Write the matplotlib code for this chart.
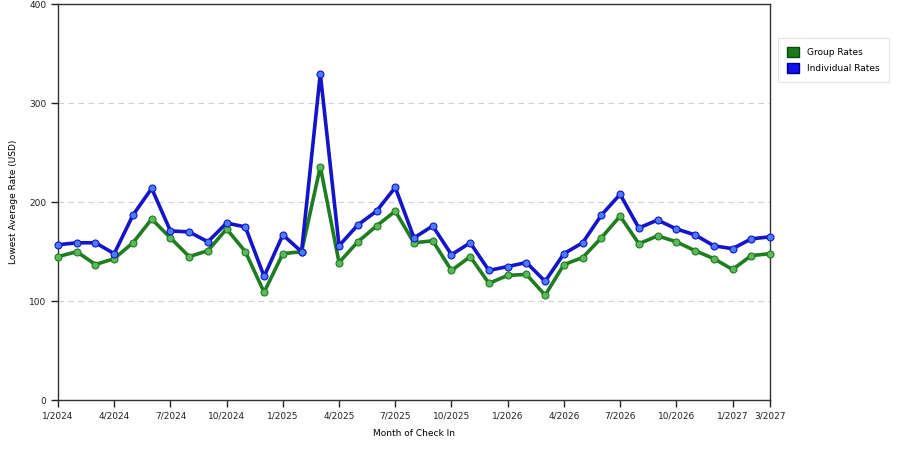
import numpy as np
import matplotlib
matplotlib.use("Agg")
import matplotlib.pyplot as plt
from matplotlib.patches import Patch

months = [f"{m}/{y}" for y in range(2024, 2028) for m in range(1, 13)][:39]

group_rates = [145, 150, 137, 143, 159, 183, 164, 145, 151, 173, 150, 109,
               148, 150, 236, 139, 160, 176, 191, 159, 161, 131, 145, 118,
               126, 127, 106, 137, 144, 164, 186, 158, 166, 160, 151, 143,
               132, 146, 148]
individual_rates = [157, 159, 159, 148, 187, 214, 171, 170, 160, 179, 175, 125,
                    167, 150, 330, 156, 177, 191, 215, 164, 176, 147, 159, 131,
                    135, 139, 120, 148, 159, 187, 208, 174, 182, 173, 167, 156,
                    153, 163, 165]

plt.rcParams['font.family'] = ['DejaVu Sans']

fig = plt.figure(figsize=(9, 4.5), dpi=100)
ax = fig.add_axes([58 / 900, 1 - 400 / 450, 712 / 900, 395.5 / 450])

x = np.arange(len(months))
for vals, col, glow in [(group_rates, "#1e7d1e", "#5cb85c"),
                        (individual_rates, "#1414c8", "#4a7cff")]:
    ax.plot(x, vals, color=col, linewidth=2.6, zorder=3, clip_on=False)
    ax.plot(x, vals, linestyle="none", marker="o", markersize=5,
            markerfacecolor=glow, markeredgecolor=col, markeredgewidth=0.8,
            zorder=4, clip_on=False)

tick_idx = list(range(0, len(months), 3)) + [len(months) - 1]

ax.set_xlim(0, len(months) - 1)
ax.set_ylim(0, 400)
ax.set_xticks(tick_idx)
ax.set_xticklabels([months[i] for i in tick_idx])
ax.set_yticks([0, 100, 200, 300, 400])
ax.yaxis.grid(True, linestyle=(0, (5, 4)), color="#d0d0d0", linewidth=0.8)
ax.set_axisbelow(True)
ax.tick_params(labelsize=6.5, length=5, width=1, colors="#222222")
for s in ax.spines.values():
    s.set_color("#333333")
    s.set_linewidth(1)

ax.set_xlabel("Month of Check In", fontsize=6.5, labelpad=6)
ax.set_ylabel("Lowest Average Rate (USD)", fontsize=6.5, labelpad=8)

handles = [Patch(facecolor="#1a7a1a", edgecolor="#0a4a0a", label="Group Rates"),
           Patch(facecolor="#1010f0", edgecolor="#000080", label="Individual Rates")]
leg = fig.legend(handles=handles, loc="upper left", bbox_to_anchor=(778 / 900, 1 - 38 / 450),
                 fontsize=6.5, frameon=True, fancybox=False, handlelength=1.3,
                 handleheight=1.3, borderpad=1.0, labelspacing=0.7, handletextpad=0.9,
                 borderaxespad=0)
leg.get_frame().set_edgecolor("#dddddd")
leg.get_frame().set_linewidth(0.8)

fig.savefig("out.png", dpi=100)
